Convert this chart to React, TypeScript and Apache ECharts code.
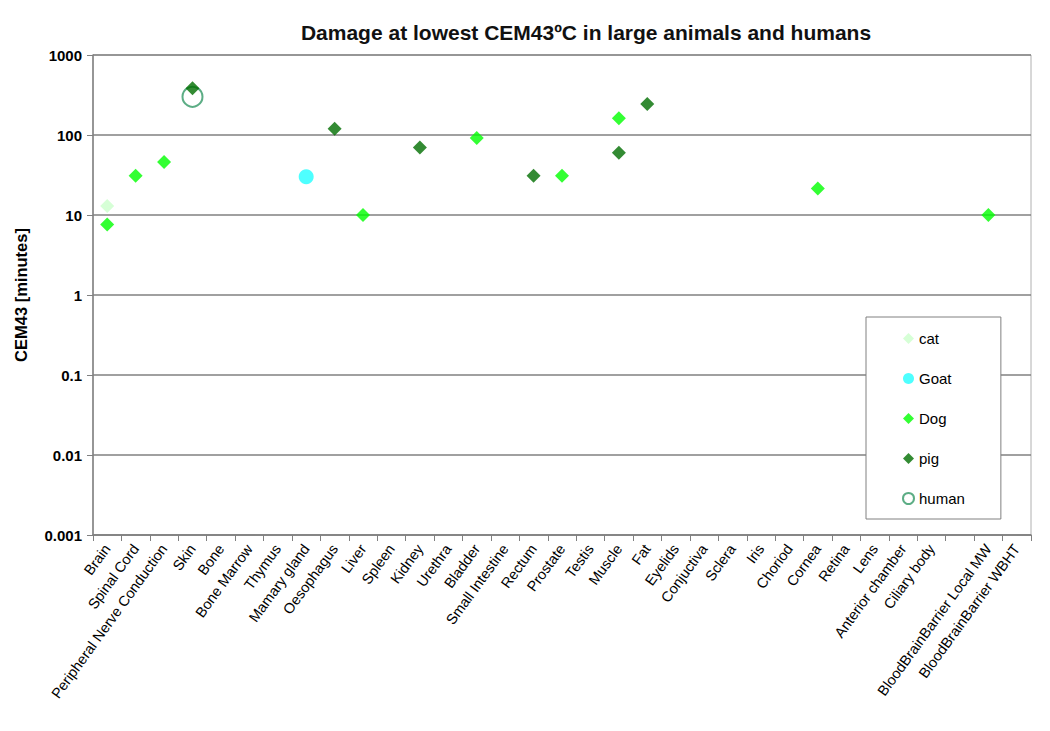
import React, { useEffect, useRef } from "react";
import * as echarts from "echarts";

const categories = [
  "Brain", "Spinal Cord", "Peripheral Nerve Conduction", "Skin", "Bone", "Bone Marrow",
  "Thymus", "Mamary gland", "Oesophagus", "Liver", "Spleen", "Kidney", "Urethra",
  "Bladder", "Small Intestine", "Rectum", "Prostate", "Testis", "Muscle", "Fat",
  "Eyelids", "Conjuctiva", "Sclera", "Iris", "Choriod", "Cornea", "Retina", "Lens",
  "Anterior chamber", "Ciliary body", " ", "BloodBrainBarrier Local MW", "BloodBrainBarrier WBHT",
];

const yTicks = ["0.001", "0.01", "0.1", "1", "10", "100", "1000"];

const catData: [string, number][] = [["Brain", 13]];
const goatData: [string, number][] = [["Mamary gland", 30]];
const dogData: [string, number][] = [
  ["Brain", 7.6], ["Spinal Cord", 31], ["Peripheral Nerve Conduction", 46],
  ["Liver", 10], ["Bladder", 92], ["Prostate", 31], ["Muscle", 162],
  ["Cornea", 21.5], ["BloodBrainBarrier Local MW", 10],
];
const pigData: [string, number][] = [
  ["Skin", 385], ["Oesophagus", 120], ["Kidney", 70], ["Rectum", 31],
  ["Muscle", 60], ["Fat", 244],
];
const humanData: [string, number][] = [["Skin", 300]];

const FONT = "'Liberation Sans', Arial, sans-serif";

export default function App() {
  const ref = useRef<HTMLDivElement>(null);
  useEffect(() => {
    if (!ref.current) return;
    const chart = echarts.init(ref.current, undefined, { renderer: "svg" });
    chart.setOption({
      animation: false,
      backgroundColor: "#ffffff",
      textStyle: { fontFamily: FONT },
      title: {
        text: "Damage at lowest CEM43ºC in large animals and humans",
        left: 581,
        top: 17,
        textAlign: "center",
        textStyle: { fontFamily: FONT, fontSize: 21, fontWeight: "bold", color: "#111" },
      },
      grid: {
        left: 93, top: 55, right: 19, bottom: 196,
        show: true, borderColor: "#b0b0b0", borderWidth: 1,
      },
      legend: {
        orient: "vertical",
        left: 866,
        top: 317,
        padding: [14, 36, 13, 36],
        itemGap: 25,
        itemWidth: 11,
        itemHeight: 11,
        backgroundColor: "#fff",
        borderColor: "#808080",
        borderWidth: 1,
        textStyle: { fontFamily: FONT, fontSize: 15, color: "#000" },
        data: [
          { name: "cat", icon: "diamond" },
          { name: "Goat", icon: "circle" },
          { name: "Dog", icon: "diamond" },
          { name: "pig", icon: "diamond" },
          { name: "human", icon: "emptyCircle" },
        ],
      },
      xAxis: {
        type: "category",
        data: categories,
        boundaryGap: true,
        axisLine: { lineStyle: { color: "#808080", width: 1.5 } },
        axisTick: { show: true, length: 6, inside: false, lineStyle: { color: "#808080" }, interval: 0 },
        axisLabel: {
          interval: 0, rotate: 54, margin: 11,
          fontFamily: FONT, fontSize: 14.5, color: "#000",
        },
        splitLine: { show: false },
      },
      yAxis: {
        type: "log",
        logBase: 10,
        min: 0.001,
        max: 1000,
        name: "CEM43 [minutes]",
        nameLocation: "middle",
        nameGap: 64,
        nameRotate: 90,
        nameTextStyle: { fontFamily: FONT, fontSize: 16.5, fontWeight: "bold", color: "#000" },
        axisLine: { show: true, lineStyle: { color: "#808080", width: 1.5 } },
        axisTick: { show: true, length: 6, inside: false, lineStyle: { color: "#808080" } },
        axisLabel: {
          fontFamily: FONT, fontSize: 15, fontWeight: "bold", color: "#000", margin: 11,
          formatter: (v: number) => {
            const e = Math.round(Math.log10(v));
            return yTicks[e + 3] ?? String(v);
          },
        },
        splitLine: { show: true, lineStyle: { color: "#808080", width: 1.5 } },
        minorTick: { show: false },
      },
      series: [
        {
          name: "cat", type: "scatter", data: catData, symbol: "diamond", symbolSize: 14, z: 3,
          itemStyle: { color: "#ccffcc" },
        },
        {
          name: "Goat", type: "scatter", data: goatData, symbol: "circle", symbolSize: 15, z: 3,
          itemStyle: { color: "#22ffff" },
        },
        {
          name: "Dog", type: "scatter", data: dogData, symbol: "diamond", symbolSize: 14, z: 3,
          itemStyle: { color: "#00ff00" },
        },
        {
          name: "pig", type: "scatter", data: pigData, symbol: "diamond", symbolSize: 14, z: 3,
          itemStyle: { color: "#006e00" },
        },
        {
          name: "human", type: "scatter", data: humanData, symbol: "emptyCircle", symbolSize: 20, z: 2,
          itemStyle: { color: "#339966", borderColor: "#339966", borderWidth: 1.3 },
        },
      ],
    });
    return () => chart.dispose();
  }, []);
  return (
    <div
      ref={ref}
      style={{ position: "absolute", left: 0, top: 0, width: 1050, height: 731 }}
    />
  );
}
